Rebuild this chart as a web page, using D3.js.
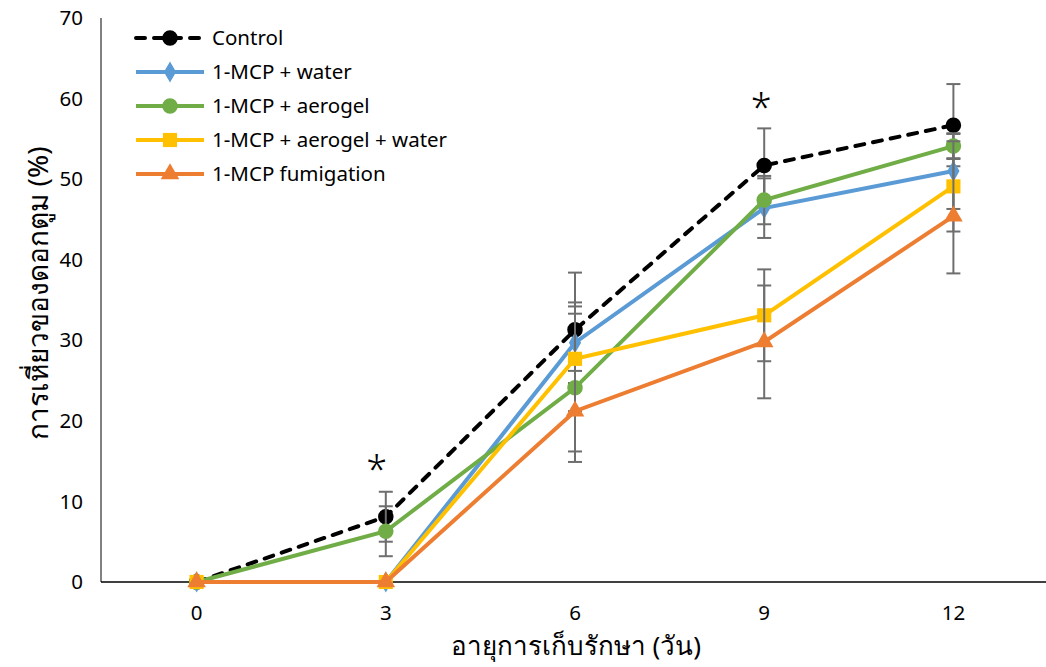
<!DOCTYPE html>
<html>
<head>
<meta charset="utf-8">
<script src="https://cdn.jsdelivr.net/npm/d3@7"></script>
<style>
  body { margin: 0; background: #fff; }
  text { font-family: "Noto Sans", "Open Sans", "DejaVu Sans", sans-serif; fill: #000; }
</style>
</head>
<body>
<div class="chart"></div>
<script>

// Data
var days = ["0", "3", "6", "9", "12"];
var yTicks = [0, 10, 20, 30, 40, 50, 60, 70];

var control   = [0, 8.1, 31.3, 51.7, 56.7];
var mcpWater  = [0, 0, 29.7, 46.4, 51.0];
var mcpGel    = [0, 6.3, 24.1, 47.4, 54.1];
var mcpGelWat = [0, 0, 27.7, 33.1, 49.1];
var mcpFumi   = [0, 0, 21.2, 29.8, 45.4];

var errControl   = [0, 3.1, 7.1, 4.6, 5.1];
var errWater     = [0, 0, 5.0, 3.7, 4.7];
var errGel       = [0, 3.1, 9.2, 3.0, 1.5];
var errGelWat    = [0, 0, 6.5, 5.7, 5.6];
var errFumi      = [0, 0, 5.0, 7.0, 7.1];

var seriesNames = ["Control", "1-MCP + water", "1-MCP + aerogel", "1-MCP + aerogel + water", "1-MCP fumigation"];
var stars = ["3", "9"];

var series = [
  {name: seriesNames[0], values: control,   err: errControl, color: "#000000", symbol: "circle",   dash: true},
  {name: seriesNames[1], values: mcpWater,  err: errWater,   color: "#5B9BD5", symbol: "diamond"},
  {name: seriesNames[2], values: mcpGel,    err: errGel,     color: "#70AD47", symbol: "circle"},
  {name: seriesNames[3], values: mcpGelWat, err: errGelWat,  color: "#FFC000", symbol: "square"},
  {name: seriesNames[4], values: mcpFumi,   err: errFumi,    color: "#ED7D31", symbol: "triangle"}
];

var width = 1046, height = 667;

var svg = d3.select(".chart")
  .append("svg")
  .attr("width", width)
  .attr("height", height);

var x = d3.scalePoint()
  .domain(days)
  .range([102, 1048])
  .padding(0.5);

var y = d3.scaleLinear()
  .domain([0, 70])
  .range([582, 18]);

// y axis line + labels
svg.append("line")
  .attr("x1", 101).attr("x2", 101)
  .attr("y1", y(70)).attr("y2", y(0))
  .attr("stroke", "#595959").attr("stroke-width", 1.5);

svg.selectAll(".ytick")
  .data(yTicks)
  .enter().append("text")
  .attr("class", "ytick")
  .attr("x", 83)
  .attr("y", function(d) { return y(d); })
  .attr("dy", "0.35em")
  .attr("text-anchor", "end")
  .style("font-size", "20.5px")
  .text(function(d) { return d; });

// x axis
svg.append("line")
  .attr("x1", 101).attr("x2", 1046)
  .attr("y1", y(0)).attr("y2", y(0))
  .attr("stroke", "#000").attr("stroke-width", 1.5);

svg.selectAll(".xtick")
  .data(days)
  .enter().append("text")
  .attr("class", "xtick")
  .attr("x", function(d) { return x(d); })
  .attr("y", 613)
  .attr("dy", "0.35em")
  .attr("text-anchor", "middle")
  .style("font-size", "20.5px")
  .text(function(d) { return d; });

svg.append("text")
  .attr("x", 576).attr("y", 646)
  .attr("dy", "0.35em")
  .attr("text-anchor", "middle")
  .style("font-size", "26px")
  .text("อายุการเก็บรักษา (วัน)");

svg.append("text")
  .attr("transform", "translate(38,293) rotate(-90)")
  .attr("dy", "0.35em")
  .attr("text-anchor", "middle")
  .style("font-size", "28px")
  .text("การเหี่ยวของดอกตูม (%)");

var symbolType = {
  circle: d3.symbolCircle,
  diamond: d3.symbolDiamond,
  square: d3.symbolSquare,
  triangle: d3.symbolTriangle
};
var symbolSize = {circle: 190, diamond: 130, square: 200, triangle: 150};

var line = d3.line()
  .x(function(d, i) { return x(days[i]); })
  .y(function(d) { return y(d); });

series.forEach(function(s) {
  var g = svg.append("g");

  g.append("path")
    .datum(s.values)
    .attr("d", line)
    .attr("fill", "none")
    .attr("stroke", s.color)
    .attr("stroke-width", 4)
    .attr("stroke-linecap", s.dash ? "round" : "butt")
    .attr("stroke-dasharray", s.dash ? "9,9" : null);

  var bars = g.selectAll(".err")
    .data(s.values.map(function(v, i) { return {v: v, e: s.err[i], day: days[i]}; })
      .filter(function(d) { return d.e > 0; }))
    .enter().append("g")
    .attr("stroke", "#6e6e6e")
    .attr("stroke-width", 2);

  bars.append("line")
    .attr("x1", function(d) { return x(d.day); })
    .attr("x2", function(d) { return x(d.day); })
    .attr("y1", function(d) { return y(d.v + d.e); })
    .attr("y2", function(d) { return y(d.v - d.e); });
  bars.append("line")
    .attr("x1", function(d) { return x(d.day) - 7; })
    .attr("x2", function(d) { return x(d.day) + 7; })
    .attr("y1", function(d) { return y(d.v + d.e); })
    .attr("y2", function(d) { return y(d.v + d.e); });
  bars.append("line")
    .attr("x1", function(d) { return x(d.day) - 7; })
    .attr("x2", function(d) { return x(d.day) + 7; })
    .attr("y1", function(d) { return y(d.v - d.e); })
    .attr("y2", function(d) { return y(d.v - d.e); });

  g.selectAll(".pt")
    .data(s.values)
    .enter().append("path")
    .attr("transform", function(d, i) { return "translate(" + x(days[i]) + "," + y(d) + ")"; })
    .attr("d", d3.symbol().type(symbolType[s.symbol]).size(symbolSize[s.symbol]))
    .attr("fill", s.color);
});

// significance stars
svg.selectAll(".star")
  .data(stars)
  .enter().append("text")
  .attr("x", function(d, i) { return x(d) - (i == 0 ? 9 : 3); })
  .attr("y", function(d, i) { return i == 0 ? 483 : 121; })
  .attr("text-anchor", "middle")
  .style("font-size", "38px")
  .style("font-weight", "300")
  .text("*");

// legend
var legend = svg.selectAll(".legend")
  .data(series)
  .enter().append("g")
  .attr("class", "legend")
  .attr("transform", function(d, i) { return "translate(0," + (38 + i * 34) + ")"; });

legend.append("line")
  .attr("x1", 136).attr("x2", 204)
  .attr("stroke", function(d) { return d.color; })
  .attr("stroke-width", 4)
  .attr("stroke-linecap", function(d) { return d.dash ? "round" : "butt"; })
  .attr("stroke-dasharray", function(d) { return d.dash ? "9,9" : null; });

legend.append("path")
  .attr("transform", "translate(170,0)")
  .attr("d", function(d) { return d3.symbol().type(symbolType[d.symbol]).size(symbolSize[d.symbol])(); })
  .attr("fill", function(d) { return d.color; });

legend.append("text")
  .attr("x", 212)
  .attr("dy", "0.35em")
  .style("font-size", "20.5px")
  .text(function(d) { return d.name; });

</script>
</body>
</html>
